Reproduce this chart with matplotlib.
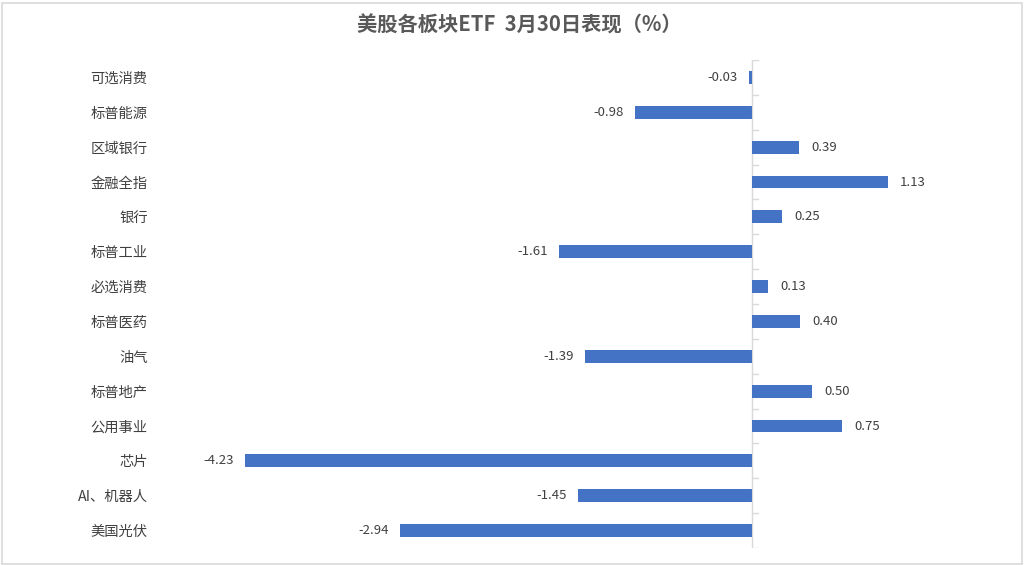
import matplotlib
matplotlib.use("Agg")
import matplotlib.pyplot as plt
from matplotlib.patches import Rectangle

plt.rcParams['font.family'] = ['Noto Sans CJK SC', 'DejaVu Sans']

categories = ["可选消费", "标普能源", "区域银行", "金融全指", "银行", "标普工业", "必选消费",
              "标普医药", "油气", "标普地产", "公用事业", "芯片", "AI、机器人", "美国光伏"]
values = [-0.03, -0.98, 0.39, 1.13, 0.25, -1.61, 0.13, 0.40, -1.39, 0.50, 0.75, -4.23, -1.45, -2.94]
title = "美股各板块ETF  3月30日表现（%）"

W, H = 1024, 565
fig = plt.figure(figsize=(W / 100, H / 100), dpi=100)
fig.patch.set_facecolor("white")
fig.add_artist(Rectangle((1.5 / W, 1.5 / H), 1 - 3.5 / W, 1 - 4 / H, transform=fig.transFigure,
                         fill=False, edgecolor="#d9d9d9", linewidth=1.2))

left_px, right_px = 152.5, 992
top_px, bot_px = 60, 548
ax = fig.add_axes([left_px / W, 1 - bot_px / H, (right_px - left_px) / W, (bot_px - top_px) / H])
ax.set_xlim(-5, 2)
n = len(categories)
ax.set_ylim(n - 0.5, -0.5)

pos = list(range(n))
ax.barh(pos, values, height=0.37, color="#4472c4", zorder=2)

ax.axvline(0, color="#d9d9d9", linewidth=1, zorder=1)
for i in range(n + 1):
    ax.plot([0, 0.045], [i - 0.5, i - 0.5], color="#d9d9d9", linewidth=1, zorder=1)

for i, v in enumerate(values):
    if v >= 0:
        ax.annotate(f"{v:.2f}", (v, i), xytext=(9, 0), textcoords="offset points",
                    ha="left", va="center", fontsize=9.5, color="#404040")
    else:
        ax.annotate(f"{v:.2f}", (v, i), xytext=(-8, 0), textcoords="offset points",
                    ha="right", va="center", fontsize=9.5, color="#404040")

ax.set_yticks(pos)
ax.set_yticklabels(categories, fontsize=10.3, color="#404040")
ax.tick_params(axis="y", length=0, pad=3.5)
ax.set_xticks([])
for s in ax.spines.values():
    s.set_visible(False)

fig.text(0.507, 1 - 25 / H, title, ha="center", va="center", fontsize=14.6, color="#595959",
         fontweight="bold")

fig.savefig("out.png", dpi=100)
